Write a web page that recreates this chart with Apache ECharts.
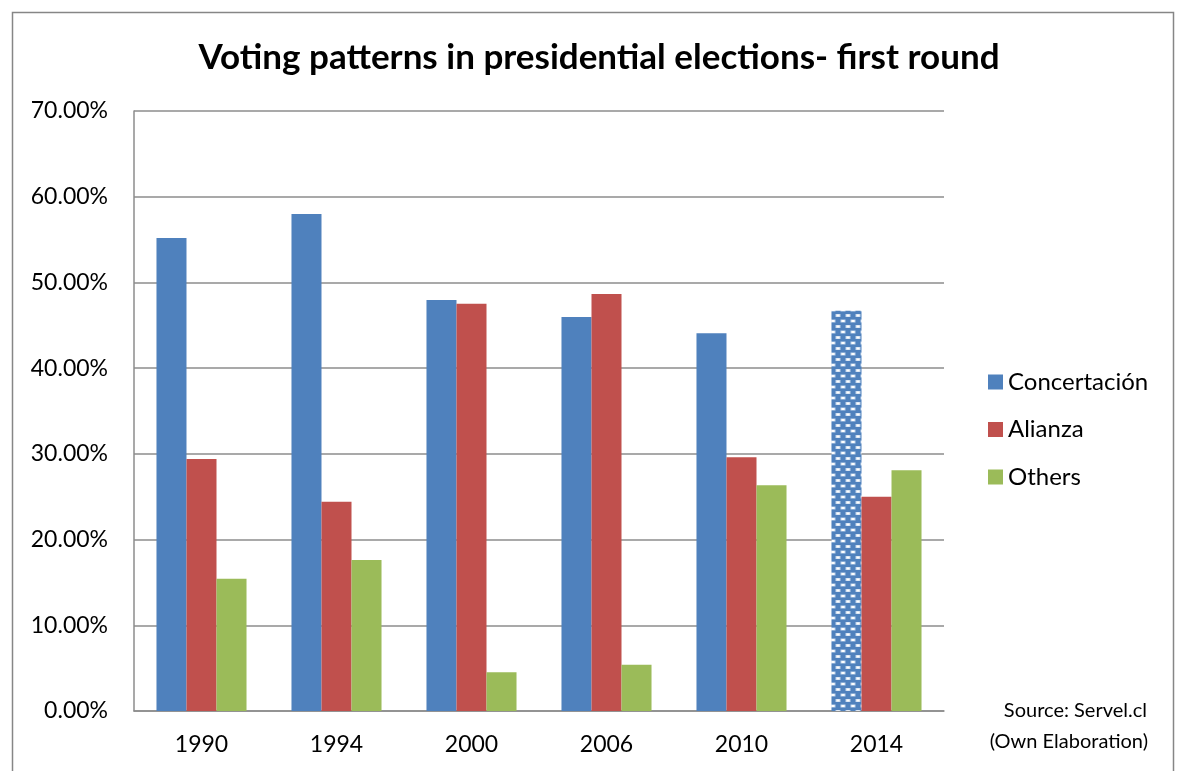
<!DOCTYPE html>
<html>
<head>
<meta charset="utf-8">
<script src="https://cdn.jsdelivr.net/npm/echarts@6/dist/echarts.min.js"></script>
<style>
html,body{margin:0;padding:0;background:#fff;}
#chart{width:1181px;height:771px;}
</style>
</head>
<body>
<div id="chart"></div>
<script>
const titleText = 'Voting patterns in presidential elections- first round';
const categories = ['1990', '1994', '2000', '2006', '2010', '2014'];
const seriesNames = ['Concertación', 'Alianza', 'Others'];
const concertacion = [55.17, 57.98, 47.96, 45.96, 44.06, 46.7];
const alianza = [29.40, 24.41, 47.51, 48.64, 29.6, 25.0];
const others = [15.43, 17.61, 4.53, 5.40, 26.34, 28.1];
const patternedIndex = 5; // 2014 Concertación bar drawn with a pattern
const sourceLines = ['Source: Servel.cl', '(Own Elaboration)'];

const FONT = 'Lato, "Liberation Sans", sans-serif';
const BLUE = '#4F81BD', RED = '#C0504D', GREEN = '#9BBB59';
const GRID_GRAY = '#8c8c8c';

// pattern tile for the 2014 bar
function makePattern() {
  const c = document.createElement('canvas');
  c.width = 10; c.height = 11;
  const g = c.getContext('2d');
  g.fillStyle = BLUE;
  g.fillRect(0, 0, 10, 11);
  function dash(x, y) {
    g.fillStyle = 'rgba(220,232,246,0.8)';
    g.fillRect(x - 0.5, y - 0.5, 5, 3);
    g.fillStyle = 'rgba(255,255,255,0.95)';
    g.fillRect(x + 0.5, y, 3, 2);
  }
  dash(1, 1);
  dash(6, 6.5);
  dash(-4, 6.5);
  return c;
}
const patternCanvas = makePattern();

const chart = echarts.init(document.getElementById('chart'));

const blueData = concertacion.map((v, i) => i === patternedIndex
  ? { value: v, itemStyle: { color: { image: patternCanvas, repeat: 'repeat' } } }
  : v);

chart.setOption({
  animation: false,
  backgroundColor: '#fff',
  title: {
    text: titleText,
    left: 594, top: 35, textAlign: 'center',
    textStyle: { fontFamily: FONT, fontWeight: 'bold', fontSize: 35, color: '#000' }
  },
  legend: {
    orient: 'vertical',
    left: 983, top: 365,
    itemWidth: 15, itemHeight: 15, itemGap: 23.5,
    icon: 'rect',
    data: seriesNames,
    textStyle: { fontFamily: FONT, fontSize: 24, color: '#000' }
  },
  grid: { left: 134, top: 111, width: 810, height: 600 },
  xAxis: {
    type: 'category',
    data: categories,
    axisLine: { lineStyle: { color: GRID_GRAY, width: 1.5 } },
    axisTick: { show: false },
    axisLabel: { fontFamily: FONT, fontSize: 23, color: '#000', margin: 22 }
  },
  yAxis: {
    type: 'value',
    min: 0, max: 70, interval: 10,
    axisLine: { show: true, lineStyle: { color: GRID_GRAY, width: 1.5 } },
    axisTick: { show: false },
    splitLine: { lineStyle: { color: GRID_GRAY, width: 1.5 } },
    axisLabel: {
      fontFamily: FONT, fontSize: 23, color: '#000', margin: 26,
      formatter: v => v.toFixed(2) + '%'
    }
  },
  series: [
    { name: seriesNames[0], type: 'bar', data: blueData, itemStyle: { color: BLUE },
      barGap: '0%', barCategoryGap: '33.3%' },
    { name: seriesNames[1], type: 'bar', data: alianza, itemStyle: { color: RED },
      barGap: '0%', barCategoryGap: '33.3%' },
    { name: seriesNames[2], type: 'bar', data: others, itemStyle: { color: GREEN },
      barGap: '0%', barCategoryGap: '33.3%' }
  ],
  graphic: [
    { type: 'rect', silent: true, z: -1,
      shape: { x: 12.5, y: 12.5, width: 1161, height: 775 },
      style: { fill: null, stroke: '#868686', lineWidth: 1.5 } },
    { type: 'text', right: 1181 - 1147, top: 701,
      style: { text: sourceLines[0], font: '20px ' + FONT, fill: '#000', textAlign: 'right' } },
    { type: 'text', right: 1181 - 1148, top: 732,
      style: { text: sourceLines[1], font: '20px ' + FONT, fill: '#000', textAlign: 'right' } }
  ]
});
</script>
</body>
</html>
